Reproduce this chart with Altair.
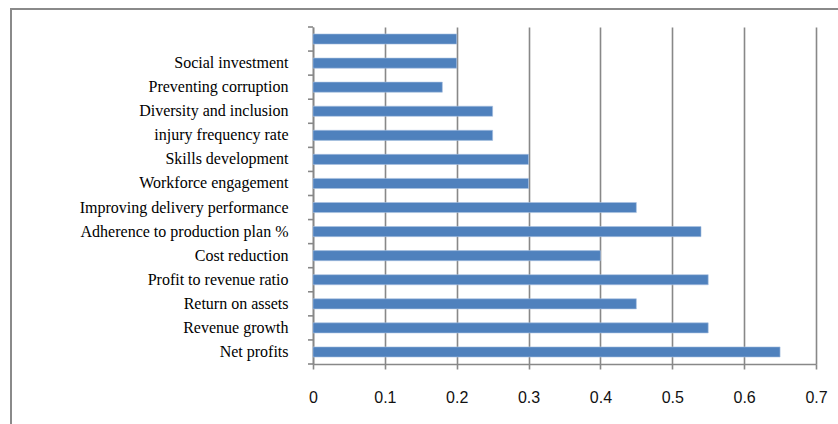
import altair as alt
import pandas as pd

# Indicators, listed top to bottom (the first bar carries no label)
categories = [
    " ",
    "Social investment",
    "Preventing corruption",
    "Diversity and inclusion",
    "injury frequency rate",
    "Skills development",
    "Workforce engagement ",
    "Improving delivery performance",
    "Adherence to production plan %",
    "Cost  reduction",
    "Profit to revenue ratio ",
    "Return on assets",
    "Revenue growth",
    "Net profits",
]
values = [0.20, 0.20, 0.18, 0.25, 0.25, 0.30, 0.30, 0.45, 0.54, 0.40, 0.55, 0.45, 0.55, 0.65]
x_ticks = [0, 0.1, 0.2, 0.3, 0.4, 0.5, 0.6, 0.7]

df = pd.DataFrame({"category": categories, "value": values})

GRAY = "#888888"
PLOT_H = 337
PAD_INNER = 0.58
STEP = PLOT_H / len(categories)
HALF_GAP = PAD_INNER * STEP / 2  # distance from a bar edge to the category boundary

y_scale = alt.Scale(paddingInner=PAD_INNER, paddingOuter=PAD_INNER / 2)

bars = alt.Chart(df).mark_bar(
    color="#4F81BD", stroke="#A9C1E0", strokeWidth=0.6
).encode(
    x=alt.X(
        "value:Q",
        scale=alt.Scale(domain=[0, 0.7], nice=False),
        axis=alt.Axis(
            values=x_ticks,
            format=".1~f",
            title=None,
            grid=True,
            gridColor=GRAY,
            gridWidth=1.6,
            domainColor=GRAY,
            domainWidth=1.6,
            tickColor=GRAY,
            tickWidth=1.6,
            tickSize=5,
            labelFont="Liberation Sans",
            labelFontSize=16,
            labelColor="#111111",
            labelPadding=20,
            labelFlush=False,
        ),
    ),
    y=alt.Y(
        "category:N",
        sort=categories,
        title=None,
        scale=y_scale,
        axis=alt.Axis(
            grid=False,
            domainColor=GRAY,
            domainWidth=1.6,
            tickOpacity=0,
            tickSize=5,
            labelFont="Liberation Serif",
            labelFontSize=16,
            labelColor="#000000",
            labelPadding=20,
            labelLimit=400,
        ),
    ),
)

# Category separator ticks on the left of the value axis
sep_top = alt.Chart(df).mark_rule(
    color=GRAY, strokeWidth=1.6, yOffset=-HALF_GAP
).encode(
    y=alt.Y("category:N", sort=categories, bandPosition=0),
    x=alt.value(-5),
    x2=alt.value(0),
)
sep_bottom = alt.Chart(df).transform_filter(
    alt.datum.category == categories[-1]
).mark_rule(
    color=GRAY, strokeWidth=1.6, yOffset=HALF_GAP
).encode(
    y=alt.Y("category:N", sort=categories, bandPosition=1),
    x=alt.value(-5),
    x2=alt.value(0),
)

# Outer chart frame
frame = alt.Chart(pd.DataFrame({"k": [0]})).mark_rect(
    fillOpacity=0, stroke="#8A8A8A", strokeWidth=2
).encode(
    x=alt.value(-302),
    x2=alt.value(545),
    y=alt.value(-18),
    y2=alt.value(420),
)

chart = alt.layer(frame, bars, sep_top, sep_bottom).properties(
    width=503,
    height=PLOT_H,
    padding={"left": 313, "top": 27, "right": 22, "bottom": 60},
    autosize=alt.AutoSizeParams(type="none"),
    background="white",
).configure_view(stroke=None)

chart.save("out.html", embed_options={"renderer": "svg", "actions": False})
